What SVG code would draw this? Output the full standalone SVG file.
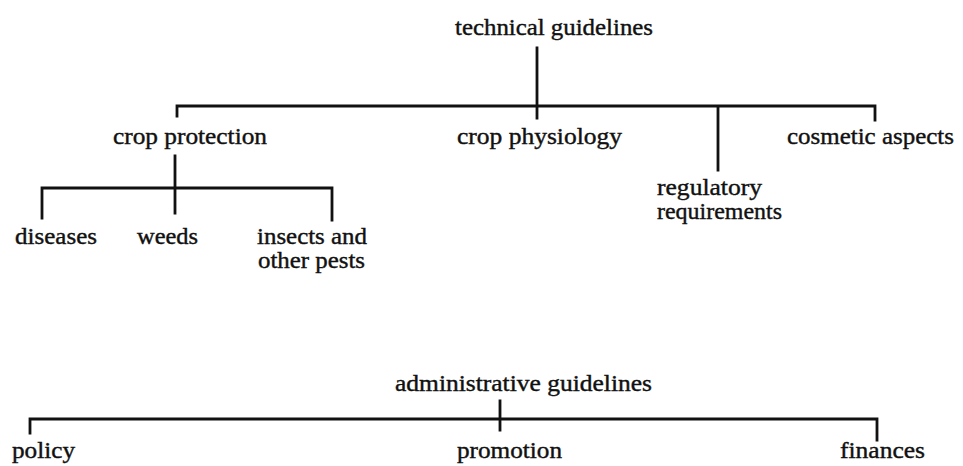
<svg xmlns="http://www.w3.org/2000/svg" width="963" height="466" viewBox="0 0 963 466">
<style>
text{font-family:"Liberation Serif","Times New Roman",serif;font-size:23px;fill:#111;stroke:#111;stroke-width:0.4}
.c{fill:none;stroke:#111;stroke-width:2.8;stroke-linecap:square}
</style>
<rect width="963" height="466" fill="#fff"/>
<g id="connectors">
<path class="c" d="M537,48V118M177,116V106H875V120M718,106V170"/>
<path class="c" d="M175,156V213M42,218V188H332V220"/>
<path class="c" d="M500,401V430M30,433V419H877V440"/>
</g>
<g id="technical"><text x="455" y="35" textLength="198" lengthAdjust="spacingAndGlyphs">technical guidelines</text></g>
<g id="crop-protection"><text x="113" y="144" textLength="154" lengthAdjust="spacingAndGlyphs">crop protection</text></g>
<g id="crop-physiology"><text x="457" y="144" textLength="165" lengthAdjust="spacingAndGlyphs">crop physiology</text></g>
<g id="cosmetic"><text x="787" y="144" textLength="167" lengthAdjust="spacingAndGlyphs">cosmetic aspects</text></g>
<g id="regulatory"><text x="657" y="195" textLength="105" lengthAdjust="spacingAndGlyphs">regulatory</text><text x="657" y="219" textLength="125" lengthAdjust="spacingAndGlyphs">requirements</text></g>
<g id="diseases"><text x="15" y="244" textLength="82" lengthAdjust="spacingAndGlyphs">diseases</text></g>
<g id="weeds"><text x="137" y="244" textLength="61" lengthAdjust="spacingAndGlyphs">weeds</text></g>
<g id="insects"><text x="257" y="244" textLength="110" lengthAdjust="spacingAndGlyphs">insects and</text><text x="258" y="268" textLength="107" lengthAdjust="spacingAndGlyphs">other pests</text></g>
<g id="administrative"><text x="395" y="391" textLength="257" lengthAdjust="spacingAndGlyphs">administrative guidelines</text></g>
<g id="policy"><text x="12" y="458" textLength="63" lengthAdjust="spacingAndGlyphs">policy</text></g>
<g id="promotion"><text x="457" y="458" textLength="105" lengthAdjust="spacingAndGlyphs">promotion</text></g>
<g id="finances"><text x="840" y="458" textLength="85" lengthAdjust="spacingAndGlyphs">finances</text></g>
</svg>
